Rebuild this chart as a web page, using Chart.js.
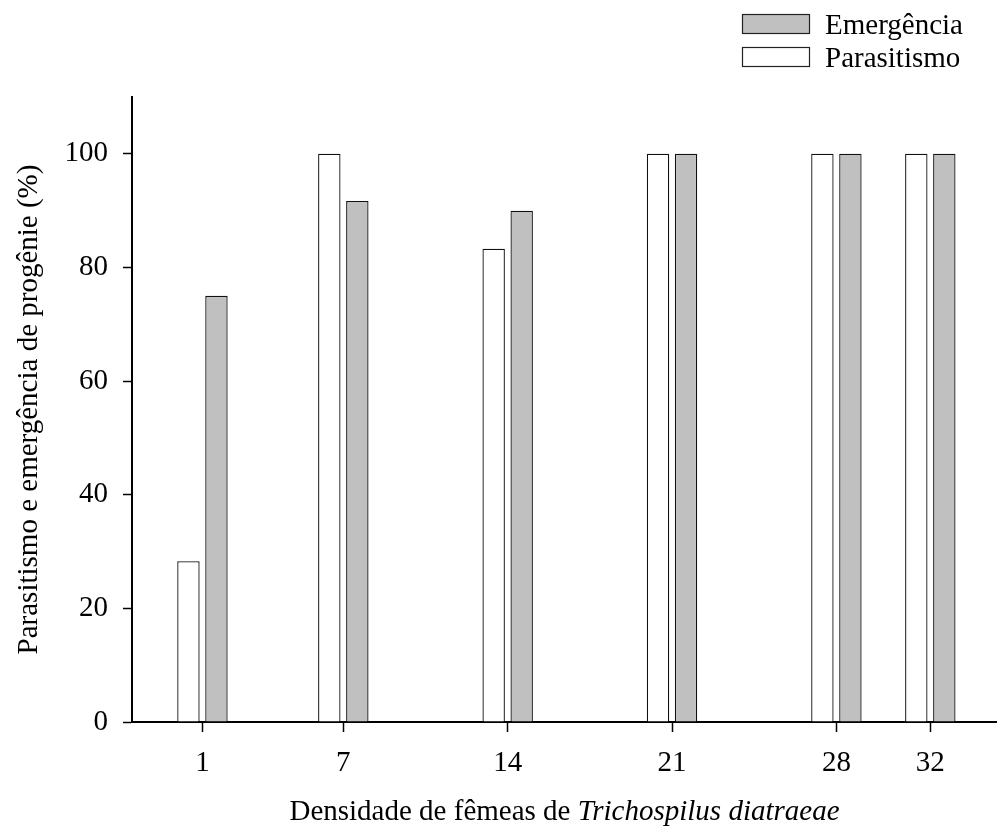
<!DOCTYPE html>
<html>
<head>
<meta charset="utf-8">
<script src="https://cdn.jsdelivr.net/npm/chart.js@4.4.0/dist/chart.umd.min.js"></script>
<style>
  html, body { margin: 0; padding: 0; background: #fff; }
  #wrap { width: 997px; height: 834px; }
</style>
</head>
<body>
<div id="wrap"><canvas id="chart" width="997" height="834"></canvas></div>
<script>
// densities of Trichospilus diatraeae females
const densities = [1, 7, 14, 21, 28, 32];
const parasitismo = [28.3, 100, 83.3, 100, 100, 100];
const emergencia = [75, 91.7, 90, 100, 100, 100];
const yTicks = [0, 20, 40, 60, 80, 100];
const xTitleRegular = 'Densidade de fêmeas de ';
const xTitleItalic = 'Trichospilus diatraeae';
const yTitle = 'Parasitismo e emergência de progênie (%)';

const FONT = '"Liberation Serif", "Times New Roman", serif';
const FONT_SIZE = 29;

// legend drawn as two stacked rows in the top right corner
const stackedLegend = {
    id: 'stackedLegend',
    afterDraw(chart) {
        const ctx = chart.ctx;
        const items = chart.data.datasets.slice().reverse();
        ctx.save();
        ctx.font = FONT_SIZE + 'px ' + FONT;
        ctx.textBaseline = 'middle';
        ctx.textAlign = 'left';
        items.forEach((ds, i) => {
            const y = 14 + i * 33;
            ctx.fillStyle = ds.backgroundColor;
            ctx.fillRect(742, y, 67, 19);
            ctx.strokeStyle = '#222';
            ctx.lineWidth = 1.2;
            ctx.strokeRect(742.5, y + 0.5, 67, 19);
            ctx.fillStyle = '#000';
            ctx.fillText(ds.label, 825, y + 12);
        });
        ctx.restore();
    }
};

// x title has an italic species name, so draw it by hand
const mixedXTitle = {
    id: 'mixedXTitle',
    afterDraw(chart) {
        const ctx = chart.ctx;
        const area = chart.chartArea;
        ctx.save();
        const regFont = FONT_SIZE + 'px ' + FONT;
        const itFont = 'italic ' + FONT_SIZE + 'px ' + FONT;
        ctx.font = regFont;
        const w1 = ctx.measureText(xTitleRegular).width;
        ctx.font = itFont;
        const w2 = ctx.measureText(xTitleItalic).width;
        const startX = (area.left + area.right) / 2 - (w1 + w2) / 2;
        const baseY = chart.height - 14;
        ctx.fillStyle = '#000';
        ctx.textBaseline = 'alphabetic';
        ctx.textAlign = 'left';
        ctx.font = regFont;
        ctx.fillText(xTitleRegular, startX, baseY);
        ctx.font = itFont;
        ctx.fillText(xTitleItalic, startX + w1, baseY);
        ctx.restore();
    }
};

const tickFont = { family: FONT, size: FONT_SIZE };

new Chart(document.getElementById('chart').getContext('2d'), {
    type: 'bar',
    data: {
        datasets: [{
            label: 'Parasitismo',
            data: densities.map((d, i) => ({ x: d, y: parasitismo[i] })),
            backgroundColor: '#ffffff',
            borderColor: '#111',
            borderWidth: 1.3,
            categoryPercentage: 0.5965,
            barPercentage: 0.8
        }, {
            label: 'Emergência',
            data: densities.map((d, i) => ({ x: d, y: emergencia[i] })),
            backgroundColor: '#c0c0c0',
            borderColor: '#111',
            borderWidth: 1.3,
            categoryPercentage: 0.5965,
            barPercentage: 0.8
        }]
    },
    options: {
        responsive: false,
        animation: false,
        devicePixelRatio: 1,
        layout: { padding: { top: 97, right: 0, left: 0, bottom: 0 } },
        plugins: {
            legend: { display: false },
            tooltip: { enabled: false }
        },
        scales: {
            x: {
                type: 'linear',
                min: -2,
                max: 34.84,
                offset: false,
                afterBuildTicks: scale => {
                    scale.ticks = densities.map(v => ({ value: v }));
                },
                afterFit: scale => { scale.height = 834 - 722; },
                grid: {
                    display: true,
                    offset: false,
                    drawOnChartArea: false,
                    drawTicks: true,
                    tickLength: 10,
                    tickWidth: 1.5,
                    tickColor: '#000'
                },
                border: { display: true, color: '#000', width: 2 },
                ticks: {
                    font: tickFont,
                    color: '#000',
                    padding: 14,
                    maxRotation: 0,
                    autoSkip: false
                }
            },
            y: {
                min: 0,
                max: 110,
                afterBuildTicks: scale => {
                    scale.ticks = yTicks.map(v => ({ value: v }));
                },
                afterFit: scale => { scale.width = 132; },
                grid: {
                    display: true,
                    drawOnChartArea: false,
                    drawTicks: true,
                    tickLength: 9,
                    tickWidth: 1.5,
                    tickColor: '#000'
                },
                border: { display: true, color: '#000', width: 2 },
                ticks: {
                    font: tickFont,
                    color: '#000',
                    padding: 15
                },
                title: {
                    display: true,
                    text: yTitle,
                    font: tickFont,
                    color: '#000',
                    padding: { top: 12, bottom: 0 }
                }
            }
        }
    },
    plugins: [stackedLegend, mixedXTitle]
});
</script>
</body>
</html>
